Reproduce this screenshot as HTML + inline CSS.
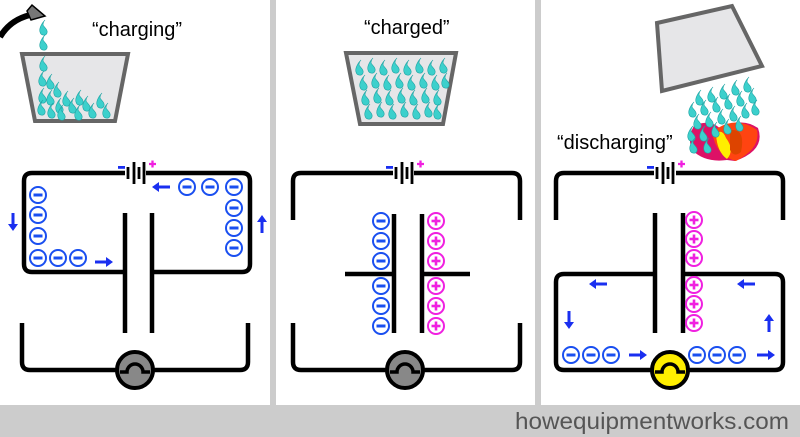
<!DOCTYPE html>
<html><head><meta charset="utf-8"><style>
html,body{margin:0;padding:0;background:#fff}
svg{display:block}
text{font-family:"Liberation Sans",sans-serif}
</style></head><body>
<svg width="800" height="437" viewBox="0 0 800 437" xmlns="http://www.w3.org/2000/svg">
<defs>
<path id="d" d="M1,-8 C-3,-4 -5,1 -4,4 C-3,8 2,8 3,5 C4,2 1,0 -1,-3 C-1,-5 0,-7 1,-8Z" fill="#3cd0cc" stroke="#1fa3a3" stroke-width="0.6"/>
<g id="m"><circle r="8" fill="#fff" stroke="#1a4ff0" stroke-width="2"/><rect x="-4.5" y="-1.5" width="9" height="3" fill="#1a4ff0"/></g>
<g id="p"><circle r="8" fill="#fff" stroke="#f020e0" stroke-width="2"/><rect x="-4.5" y="-1.3" width="9" height="2.6" fill="#f020e0"/><rect x="-1.3" y="-4.5" width="2.6" height="9" fill="#f020e0"/></g>
<g id="ar"><path d="M-9,-1.5 H2 V-5 L9,0 L2,5 V1.5 H-9Z" fill="#1a2ff0"/></g>
<g id="bat"><path d="M-8,-6 V6 M-2,-11 V11 M3,-6 V6 M8,-11 V11" stroke="#000" stroke-width="2.8"/><rect x="-18" y="-7" width="7" height="2.8" fill="#1a2ff0"/><path d="M13,-9 h7 M16.5,-12.5 v7" stroke="#f020e0" stroke-width="2.3"/></g>
</defs>
<rect x="270" y="0" width="6" height="405" fill="#ccc"/>
<rect x="535" y="0" width="6" height="405" fill="#ccc"/>
<rect x="0" y="405" width="800" height="32" fill="#ccc"/>
<text x="789" y="429" text-anchor="end" font-size="23" fill="#555" textLength="274" lengthAdjust="spacingAndGlyphs">howequipmentworks.com</text>

<g fill="none" stroke="#000" stroke-width="4.5" stroke-linecap="butt" stroke-linejoin="round">
<path d="M125,173 H32 Q24,173 24,181 V264 Q24,272 32,272 H125"/>
<path d="M146,173 H242 Q250,173 250,181 V264 Q250,272 242,272 H152"/>
<path d="M125,213 V333 M152,213 V333"/>
<path d="M22,323 V362 Q22,370 30,370 H240 Q248,370 248,362 V323"/>
<path d="M393,173 H301 Q293,173 293,181 V220"/>
<path d="M414,173 H512 Q520,173 520,181 V220"/>
<path d="M394,214 V333 M422,214 V333 M345,274 H394 M422,274 H470"/>
<path d="M293,323 V362 Q293,370 301,370 H512 Q520,370 520,362 V323"/>
<path d="M654,173 H564 Q556,173 556,181 V220"/>
<path d="M676,173 H775 Q783,173 783,181 V220"/>
<path d="M655,213 V333 M683,213 V333"/>
<path d="M655,274 H564 Q556,274 556,282 V362 Q556,370 564,370 H775 Q783,370 783,362 V282 Q783,274 775,274 H683"/>
</g>
<use href="#bat" x="136" y="173"/>
<use href="#bat" x="404" y="173"/>
<use href="#bat" x="665" y="173"/>
<g stroke="#000" stroke-width="4">
<circle cx="135" cy="370" r="18" fill="#888"/>
<circle cx="405" cy="370" r="18" fill="#888"/>
<circle cx="670" cy="370" r="18" fill="#ffee00"/>
</g>
<g fill="none" stroke="#000" stroke-width="3.5">
<path d="M120,372 H127 A8,8 0 0 1 143,372 H150"/>
<path d="M390,372 H397 A8,8 0 0 1 413,372 H420"/>
<path d="M655,372 H662 A8,8 0 0 1 678,372 H685"/>
</g>
<use href="#m" x="38" y="195"/><use href="#m" x="38" y="215"/><use href="#m" x="38" y="236"/><use href="#m" x="38" y="258"/><use href="#m" x="58" y="258"/><use href="#m" x="78" y="258"/>
<use href="#m" x="187" y="187"/><use href="#m" x="210" y="187"/><use href="#m" x="234" y="187"/><use href="#m" x="234" y="208"/><use href="#m" x="234" y="228"/><use href="#m" x="234" y="248"/>
<use href="#ar" x="104" y="262"/>
<use href="#ar" x="161" y="187" transform="rotate(180 161 187)"/>
<use href="#ar" x="13" y="222" transform="rotate(90 13 222)"/>
<use href="#ar" x="262" y="224" transform="rotate(-90 262 224)"/>
<use href="#m" x="381" y="221"/><use href="#m" x="381" y="241"/><use href="#m" x="381" y="261"/><use href="#m" x="381" y="286"/><use href="#m" x="381" y="306"/><use href="#m" x="381" y="326"/>
<use href="#p" x="436" y="221"/><use href="#p" x="436" y="241"/><use href="#p" x="436" y="261"/><use href="#p" x="436" y="286"/><use href="#p" x="436" y="306"/><use href="#p" x="436" y="326"/>
<use href="#p" x="694" y="220"/><use href="#p" x="694" y="239"/><use href="#p" x="694" y="258"/><use href="#p" x="694" y="285"/><use href="#p" x="694" y="304"/><use href="#p" x="694" y="323"/>
<use href="#m" x="571" y="355"/><use href="#m" x="591" y="355"/><use href="#m" x="611" y="355"/><use href="#m" x="697" y="355"/><use href="#m" x="717" y="355"/><use href="#m" x="737" y="355"/>
<use href="#ar" x="638" y="355"/><use href="#ar" x="766" y="355"/>
<use href="#ar" x="598" y="284" transform="rotate(180 598 284)"/>
<use href="#ar" x="746" y="284" transform="rotate(180 746 284)"/>
<use href="#ar" x="569" y="320" transform="rotate(90 569 320)"/>
<use href="#ar" x="769" y="323" transform="rotate(-90 769 323)"/>

<text x="92" y="36" font-size="20">“charging”</text>
<text x="364" y="34" font-size="20">“charged”</text>
<text x="557" y="149" font-size="20">“discharging”</text>

<path d="M0,37 Q10,20 30,15" fill="none" stroke="#000" stroke-width="6"/>
<path d="M27,11 L32,5 L45,16 L31,20Z" fill="#777" stroke="#000" stroke-width="1.5"/>
<use href="#d" x="44" y="28"/><use href="#d" x="44" y="43"/>
<path d="M22,54 H128 L115,121 H35Z" fill="#e6e6e8" stroke="#666" stroke-width="4"/>
<g>
<use href="#d" x="44" y="64"/><use href="#d" x="43" y="79"/><use href="#d" x="51" y="82"/><use href="#d" x="43" y="96"/><use href="#d" x="51" y="98"/><use href="#d" x="58" y="90"/><use href="#d" x="42" y="108"/><use href="#d" x="52" y="111"/><use href="#d" x="60" y="106"/><use href="#d" x="67" y="99"/><use href="#d" x="73" y="106"/><use href="#d" x="80" y="98"/><use href="#d" x="79" y="113"/><use href="#d" x="87" y="104"/><use href="#d" x="93" y="111"/><use href="#d" x="101" y="101"/><use href="#d" x="107" y="111"/><use href="#d" x="62" y="113"/>
</g>
<path d="M346,53 H456 L443,124 H360Z" fill="#e6e6e8" stroke="#666" stroke-width="4"/>
<g>
<use href="#d" x="360" y="68"/><use href="#d" x="372" y="66"/><use href="#d" x="384" y="68"/><use href="#d" x="396" y="66"/><use href="#d" x="408" y="68"/><use href="#d" x="420" y="66"/><use href="#d" x="432" y="68"/><use href="#d" x="444" y="66"/>
<use href="#d" x="364" y="83"/><use href="#d" x="376" y="81"/><use href="#d" x="388" y="83"/><use href="#d" x="400" y="81"/><use href="#d" x="412" y="83"/><use href="#d" x="424" y="81"/><use href="#d" x="436" y="83"/><use href="#d" x="446" y="81"/>
<use href="#d" x="366" y="98"/><use href="#d" x="378" y="96"/><use href="#d" x="390" y="98"/><use href="#d" x="402" y="96"/><use href="#d" x="414" y="98"/><use href="#d" x="426" y="96"/><use href="#d" x="438" y="98"/>
<use href="#d" x="369" y="112"/><use href="#d" x="381" y="110"/><use href="#d" x="393" y="112"/><use href="#d" x="405" y="110"/><use href="#d" x="417" y="112"/><use href="#d" x="429" y="110"/><use href="#d" x="438" y="112"/>
</g>
<path d="M657,23 L732,6 L762,66 L662,91Z" fill="#e6e6e8" stroke="#666" stroke-width="4"/>
<path d="M694,126 Q710,118 722,130 Q740,116 758,128 Q766,150 735,161 L727,160 Q705,163 692,150 Q687,137 694,126Z" fill="#dd1166"/>
<path d="M712,132 Q735,114 757,130 Q761,148 736,161 Q716,156 712,132Z" fill="#ff4411"/>
<path d="M716,134 Q722,128 726,138 Q735,150 727,159 Q717,152 716,134Z" fill="#ffee00"/>
<path d="M730,130 Q746,128 741,152 Q734,158 730,150Z" fill="#dd4400"/>
<g>
<use href="#d" x="700" y="98"/><use href="#d" x="712" y="95"/><use href="#d" x="724" y="92"/><use href="#d" x="736" y="88"/><use href="#d" x="748" y="85"/>
<use href="#d" x="693" y="110"/><use href="#d" x="705" y="108"/><use href="#d" x="717" y="105"/><use href="#d" x="729" y="102"/><use href="#d" x="741" y="99"/><use href="#d" x="753" y="96"/>
<use href="#d" x="698" y="122"/><use href="#d" x="710" y="120"/><use href="#d" x="722" y="117"/><use href="#d" x="734" y="114"/><use href="#d" x="746" y="111"/><use href="#d" x="756" y="108"/>
<use href="#d" x="692" y="134"/><use href="#d" x="704" y="134"/><use href="#d" x="716" y="130"/><use href="#d" x="728" y="127"/><use href="#d" x="740" y="124"/>
<use href="#d" x="694" y="146"/><use href="#d" x="708" y="146"/>
</g>
</svg>
</body></html>
